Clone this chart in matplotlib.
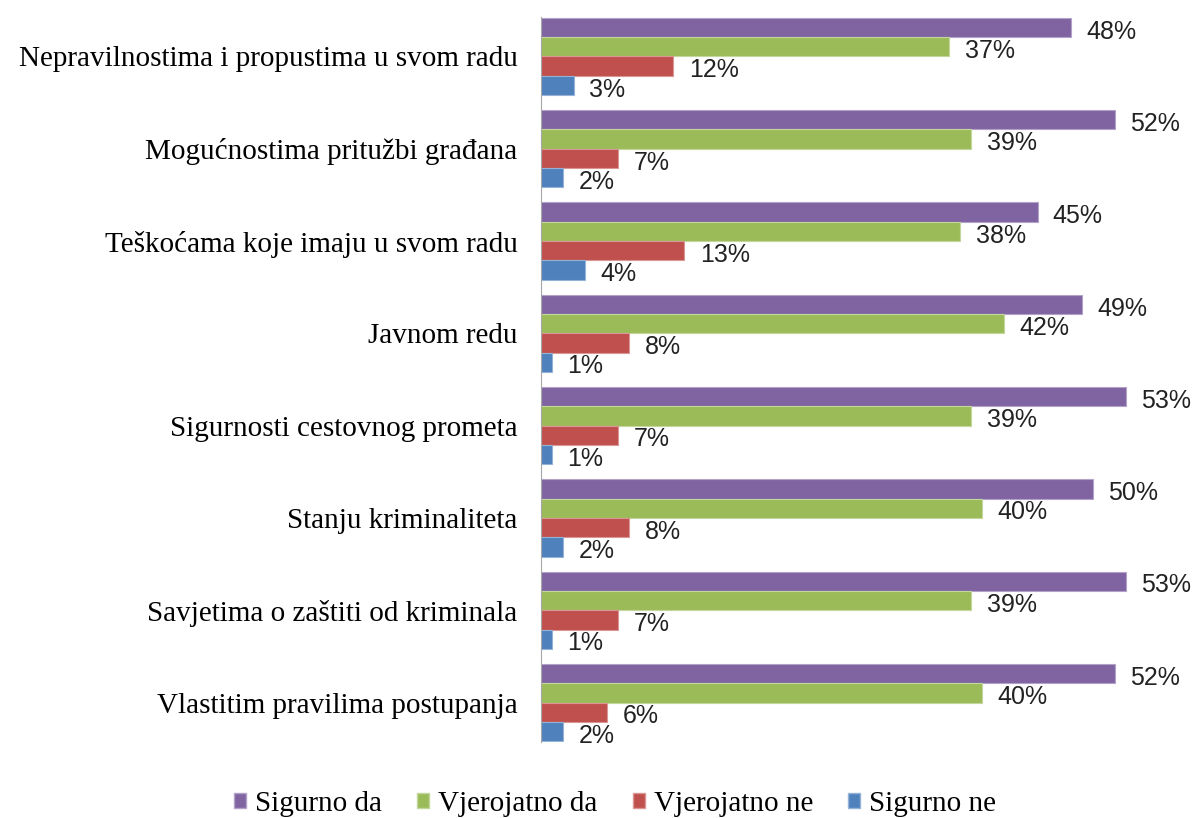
import matplotlib.pyplot as plt
from matplotlib.patches import Patch

categories = ["Nepravilnostima i propustima u svom radu",
              "Mogućnostima pritužbi građana",
              "Teškoćama koje imaju u svom radu",
              "Javnom redu",
              "Sigurnosti cestovnog prometa",
              "Stanju kriminaliteta",
              "Savjetima o zaštiti od kriminala",
              "Vlastitim pravilima postupanja"]

sigurno_da = [48, 52, 45, 49, 53, 50, 53, 52]
vjerojatno_da = [37, 39, 38, 42, 39, 40, 39, 40]
vjerojatno_ne = [12, 7, 13, 8, 7, 8, 7, 6]
sigurno_ne = [3, 2, 4, 1, 1, 2, 1, 2]

series_names = ["Sigurno da", "Vjerojatno da", "Vjerojatno ne", "Sigurno ne"]
colors = ["#8064A2", "#9BBB59", "#C0504D", "#4F81BD"]
edges = ["#B3A2C7", "#C3D69B", "#D99694", "#95B3D7"]

serif = ["Liberation Serif", "DejaVu Serif"]
sans = ["Liberation Sans", "DejaVu Sans"]

fig = plt.figure(figsize=(11.92, 8.18), dpi=100)
ax = fig.add_axes([541 / 1192, 1 - 742 / 818, 640 / 1192, 725 / 818])

h = 0.209
series = [sigurno_da, vjerojatno_da, vjerojatno_ne, sigurno_ne]
for k, vals in enumerate(series):
    ys = [i - 2 * h + h * (k + 0.5) for i in range(len(categories))]
    ax.barh(ys, vals, height=h, color=colors[k], edgecolor=edges[k], linewidth=0.8)
    for y, v in zip(ys, vals):
        ax.annotate(f"{v}%", (v, y), xytext=(11, -3), textcoords="offset points",
                    ha="left", va="center", fontsize=18, family=sans, color="#222222")

ax.set_xlim(0, 58)
ax.set_ylim(7 + 2 * h + 0.01, -2 * h - 0.01)
ax.set_yticks(range(len(categories)))
ax.set_yticklabels(categories, family=serif, fontsize=21)
ax.tick_params(axis="y", length=0, pad=17)
ax.set_xticks([])
for s in ["top", "right", "bottom"]:
    ax.spines[s].set_visible(False)
ax.spines["left"].set_color("#A6A6A6")

handles = [Patch(facecolor=c, edgecolor=e) for c, e in zip(colors, edges)]
fig.legend(handles, series_names, loc="center", bbox_to_anchor=(615 / 1192, 1 - 804 / 818),
           ncol=4, frameon=False, prop={"family": serif, "size": 21},
           handlelength=0.42, handleheight=0.42, handletextpad=0.3, columnspacing=1.2)

fig.savefig("out.png", dpi=100)
